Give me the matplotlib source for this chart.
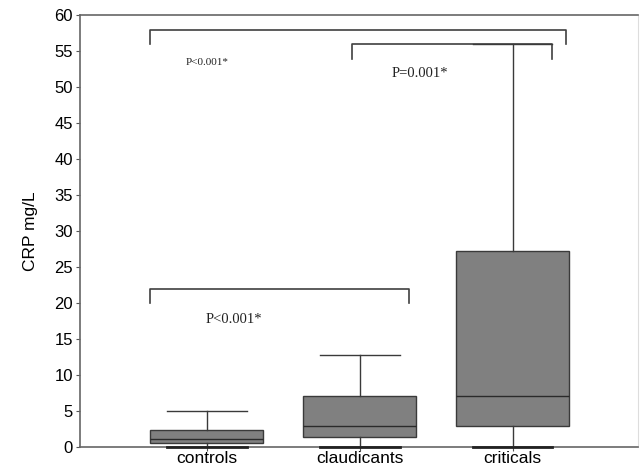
import matplotlib.pyplot as plt

# CRP summary per group (mg/L)
groups = ['controls', 'claudicants', 'criticals']
q1 = [0.5, 1.3, 2.9]
medians = [1.1, 2.9, 7.1]
q3 = [2.3, 7.0, 27.2]
whisker_low = [0.0, 0.0, 0.0]
whisker_high = [4.9, 12.8, 55.9]

# significance brackets and their p-value labels
bracket_left = [0.63, 1.95, 0.63]
bracket_right = [3.35, 3.26, 2.32]
bracket_y = [57.9, 55.9, 21.9]
p_text = ['P<0.001*', 'P=0.001*', 'P<0.001*']
p_text_x = [0.86, 2.21, 0.99]
p_text_y = [53.4, 51.8, 17.7]
p_text_size = [8, 10.5, 10.5]

stats = []
for i, g in enumerate(groups):
    stats.append({'label': g, 'q1': q1[i], 'med': medians[i], 'q3': q3[i],
                  'whislo': whisker_low[i], 'whishi': whisker_high[i], 'fliers': []})

fig = plt.figure(figsize=(6.4, 4.72), dpi=100)
ax = fig.add_axes([0.125, 0.0536, 0.872, 0.9153])

edge = '#3a3a3a'
bp = ax.bxp(stats, positions=[1, 2, 3], widths=0.74, patch_artist=True,
            boxprops=dict(facecolor='#808080', edgecolor=edge, linewidth=1.0),
            medianprops=dict(color='#2a2a2a', linewidth=1.0),
            whiskerprops=dict(color=edge, linewidth=1.0),
            capprops=dict(color=edge, linewidth=1.0),
            capwidths=0.52, showfliers=False)
# caps sitting on zero should show over the x axis line
for cap in bp['caps']:
    cap.set_clip_on(False)
    cap.set_zorder(3)
    if cap.get_ydata()[0] == 0:
        cap.set_linewidth(2.0)
        cap.set_color('#222222')

for i in range(len(p_text)):
    l, r, y = bracket_left[i], bracket_right[i], bracket_y[i]
    ax.plot([l, l, r, r], [y - 2, y, y, y - 2], color='#404040', lw=1.2,
            clip_on=False)
    ax.text(p_text_x[i], p_text_y[i], p_text[i], family='Liberation Serif',
            fontsize=p_text_size[i], color='#222222', ha='left', va='center')

ax.set_xlim(0.17, 3.82)
ax.set_ylim(0, 60)
ax.set_yticks(range(0, 61, 5))
ax.set_xticks([1, 2, 3])
ax.set_xticklabels(groups)
ax.set_ylabel('CRP mg/L', family='Liberation Sans', fontsize=12.5, labelpad=12)

for lab in ax.get_yticklabels():
    lab.set_family('Liberation Sans')
    lab.set_fontsize(12)
for lab in ax.get_xticklabels():
    lab.set_family('Liberation Sans')
    lab.set_fontsize(12.5)
ax.tick_params(axis='both', direction='out', length=3, color='#555555',
               pad=2)
ax.tick_params(axis='x', pad=0)

for s in ['left', 'bottom', 'top']:
    ax.spines[s].set_color('#666666')
    ax.spines[s].set_linewidth(1.2)
ax.spines['right'].set_color('#dddddd')
ax.spines['right'].set_linewidth(0.8)

fig.savefig('out.png', dpi=100)
